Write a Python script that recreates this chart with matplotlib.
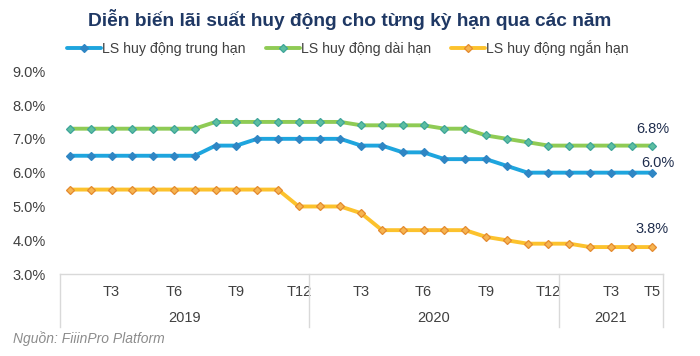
import numpy as np
import matplotlib
matplotlib.use("Agg")
from matplotlib import pyplot as plt
from matplotlib import transforms

plt.rcParams['font.family'] = ['Liberation Sans', 'DejaVu Sans']

# T1/2019 .. T5/2021, one point per month
months = ["T%d" % m for m in range(1, 13)] * 2 + ["T%d" % m for m in range(1, 6)]
years = ["2019", "2020", "2021"]
year_len = [12, 12, 5]
shown_months = ["T3", "T6", "T9", "T12"]

trung_han = [6.5, 6.5, 6.5, 6.5, 6.5, 6.5, 6.5, 6.8, 6.8, 7.0, 7.0, 7.0,
             7.0, 7.0, 6.8, 6.8, 6.6, 6.6, 6.4, 6.4, 6.4, 6.2, 6.0, 6.0,
             6.0, 6.0, 6.0, 6.0, 6.0]
dai_han = [7.3, 7.3, 7.3, 7.3, 7.3, 7.3, 7.3, 7.5, 7.5, 7.5, 7.5, 7.5,
           7.5, 7.5, 7.4, 7.4, 7.4, 7.4, 7.3, 7.3, 7.1, 7.0, 6.9, 6.8,
           6.8, 6.8, 6.8, 6.8, 6.8]
ngan_han = [5.5, 5.5, 5.5, 5.5, 5.5, 5.5, 5.5, 5.5, 5.5, 5.5, 5.5, 5.0,
            5.0, 5.0, 4.8, 4.3, 4.3, 4.3, 4.3, 4.3, 4.1, 4.0, 3.9, 3.9,
            3.9, 3.8, 3.8, 3.8, 3.8]

series = [
    ("LS huy động trung hạn", trung_han, "#1ea5de", "#2f86c4", "#2f86c4", (4, 7)),
    ("LS huy động dài hạn", dai_han, "#8fcb55", "#5cbfa0", "#3fa49a", (0, 12)),
    ("LS huy động ngắn hạn", ngan_han, "#fcc22d", "#f6b450", "#e48a2e", (0, 13)),
]

text_col = "#404040"
x = np.arange(len(months))

fig = plt.figure(figsize=(7.0, 3.56), dpi=100)
ax = fig.add_axes([0.085, 0.230, 0.862, 0.570])

for name, vals, lc, mfc, mec, off in series:
    ax.plot(x, vals, color=lc, lw=2.8, marker="D", ms=3.8,
            mfc=mfc, mec=mec, mew=0.9, label=name, solid_capstyle="round")
    ax.annotate("%.1f%%" % vals[-1], (x[-1], vals[-1]), xytext=off,
                textcoords="offset points", ha="center", va="center",
                fontsize=10.5, color="#1f2d4d")

ax.set_ylim(3.0, 9.0)
ax.set_xlim(-0.5, len(months) - 0.5)
ax.set_yticks(np.arange(3.0, 9.01, 1.0))
ax.set_yticklabels(["%.1f%%" % v for v in np.arange(3.0, 9.01, 1.0)])
ax.tick_params(axis="y", length=0, pad=10, labelsize=10.5, labelcolor=text_col)

for s in ["top", "right", "left"]:
    ax.spines[s].set_visible(False)
ax.spines["bottom"].set_color("#d9d9d9")
ax.spines["bottom"].set_linewidth(1.0)

# two-level category axis
tick_idx = [i for i, m in enumerate(months) if m in shown_months]
tick_idx.append(len(months) - 1)
ax.set_xticks(tick_idx)
ax.set_xticklabels([months[i] for i in tick_idx])
ax.tick_params(axis="x", length=0, pad=8, labelsize=10.5, labelcolor=text_col)

trans = transforms.blended_transform_factory(ax.transData, ax.transAxes)
edges = np.concatenate([[0], np.cumsum(year_len)]) - 0.5
for e in edges:
    ax.plot([e, e], [0, -0.26], transform=trans, color="#d9d9d9",
            lw=1.0, clip_on=False)
for i, yr in enumerate(years):
    mid = (edges[i] + edges[i + 1]) / 2
    ax.text(mid, -0.215, yr, transform=trans, ha="center", va="center",
            fontsize=10.5, color=text_col)

fig.text(0.5, 0.944, "Diễn biến lãi suất huy động cho từng kỳ hạn qua các năm",
         ha="center", va="center", fontsize=13.8, fontweight="bold",
         color="#1f3864")

fig.legend(loc="center", bbox_to_anchor=(0.497, 0.866), ncol=3, frameon=False,
           fontsize=10.2, handlelength=2.4, handletextpad=0.1,
           columnspacing=1.4, labelcolor=text_col)

fig.text(0.018, 0.05, "Nguồn: FiiinPro Platform", ha="left", va="center",
         fontsize=10, style="italic", color="#8c8c8c")

plt.savefig("out.png", dpi=100)
